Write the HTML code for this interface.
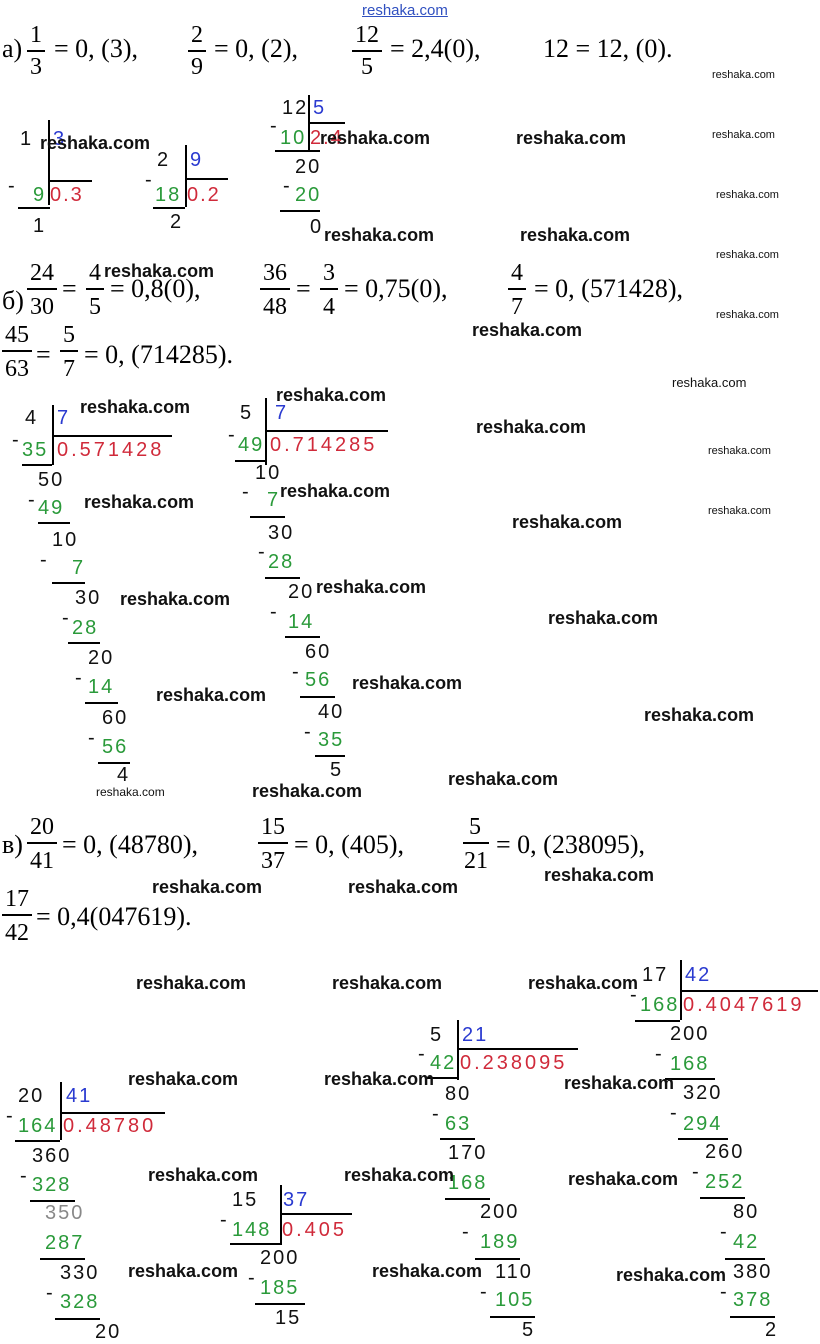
<!DOCTYPE html>
<html><head><meta charset="utf-8"><style>
body{margin:0;width:820px;height:1342px;background:#fff;position:relative;overflow:hidden}
.m{position:absolute;font:26px "Liberation Serif",serif;line-height:30px;white-space:nowrap;color:#000}
.n{position:absolute;font:24px "Liberation Serif",serif;line-height:26px;text-align:center;color:#000}
.fb{position:absolute;height:1.5px;background:#000}
.w{position:absolute;font:bold 18px "Liberation Sans",sans-serif;line-height:20px;color:#111;white-space:nowrap}
.ws{position:absolute;font:11px "Liberation Sans",sans-serif;line-height:12px;color:#111}
.d{position:absolute;font:20px "Liberation Sans",sans-serif;line-height:24px;letter-spacing:2px;white-space:nowrap;color:#111}
.g{color:#2a9a3a}.r{color:#d02a3a}.b{color:#2a3ad0}
.v{position:absolute;width:1.5px;background:#000}
.h{position:absolute;height:1.5px;background:#000}
</style></head><body>
<div style="position:absolute;left:362px;top:2px;font:15px 'Liberation Sans',sans-serif;color:#3050c0;text-decoration:underline">reshaka.com</div>

<!-- а) -->
<div class="m" style="left:2px;top:34px">а)</div>
<div class="n" style="left:27px;top:22px;width:18px">1</div><div class="fb" style="left:27px;top:50px;width:18px"></div><div class="n" style="left:27px;top:54px;width:18px">3</div>
<div class="m" style="left:54px;top:34px">= 0, (3),</div>
<div class="n" style="left:188px;top:22px;width:18px">2</div><div class="fb" style="left:188px;top:50px;width:18px"></div><div class="n" style="left:188px;top:54px;width:18px">9</div>
<div class="m" style="left:214px;top:34px">= 0, (2),</div>
<div class="n" style="left:352px;top:22px;width:30px">12</div><div class="fb" style="left:352px;top:50px;width:30px"></div><div class="n" style="left:352px;top:54px;width:30px">5</div>
<div class="m" style="left:390px;top:34px">= 2,4(0),</div>
<div class="m" style="left:543px;top:34px">12 = 12, (0).</div>

<!-- б) -->
<div class="m" style="left:2px;top:286px">б)</div>
<div class="n" style="left:27px;top:260px;width:30px">24</div><div class="fb" style="left:27px;top:288px;width:30px"></div><div class="n" style="left:27px;top:294px;width:30px">30</div>
<div class="m" style="left:62px;top:274px">=</div>
<div class="n" style="left:86px;top:260px;width:18px">4</div><div class="fb" style="left:86px;top:288px;width:18px"></div><div class="n" style="left:86px;top:294px;width:18px">5</div>
<div class="m" style="left:110px;top:274px">= 0,8(0),</div>
<div class="n" style="left:260px;top:260px;width:30px">36</div><div class="fb" style="left:260px;top:288px;width:30px"></div><div class="n" style="left:260px;top:294px;width:30px">48</div>
<div class="m" style="left:296px;top:274px">=</div>
<div class="n" style="left:320px;top:260px;width:18px">3</div><div class="fb" style="left:320px;top:288px;width:18px"></div><div class="n" style="left:320px;top:294px;width:18px">4</div>
<div class="m" style="left:344px;top:274px">= 0,75(0),</div>
<div class="n" style="left:508px;top:260px;width:18px">4</div><div class="fb" style="left:508px;top:288px;width:18px"></div><div class="n" style="left:508px;top:294px;width:18px">7</div>
<div class="m" style="left:534px;top:274px">= 0, (571428),</div>
<div class="n" style="left:2px;top:322px;width:30px">45</div><div class="fb" style="left:2px;top:350px;width:30px"></div><div class="n" style="left:2px;top:356px;width:30px">63</div>
<div class="m" style="left:36px;top:340px">=</div>
<div class="n" style="left:60px;top:322px;width:18px">5</div><div class="fb" style="left:60px;top:350px;width:18px"></div><div class="n" style="left:60px;top:356px;width:18px">7</div>
<div class="m" style="left:84px;top:340px">= 0, (714285).</div>

<!-- в) -->
<div class="m" style="left:2px;top:830px">в)</div>
<div class="n" style="left:27px;top:814px;width:30px">20</div><div class="fb" style="left:27px;top:842px;width:30px"></div><div class="n" style="left:27px;top:848px;width:30px">41</div>
<div class="m" style="left:62px;top:830px">= 0, (48780),</div>
<div class="n" style="left:258px;top:814px;width:30px">15</div><div class="fb" style="left:258px;top:842px;width:30px"></div><div class="n" style="left:258px;top:848px;width:30px">37</div>
<div class="m" style="left:294px;top:830px">= 0, (405),</div>
<div class="n" style="left:463px;top:814px;width:24px">5</div><div class="fb" style="left:463px;top:842px;width:26px"></div><div class="n" style="left:463px;top:848px;width:26px">21</div>
<div class="m" style="left:496px;top:830px">= 0, (238095),</div>
<div class="n" style="left:2px;top:886px;width:30px">17</div><div class="fb" style="left:2px;top:914px;width:30px"></div><div class="n" style="left:2px;top:920px;width:30px">42</div>
<div class="m" style="left:36px;top:902px">= 0,4(047619).</div>

<!-- Div 1/3 -->
<div class="d" style="left:20px;top:127px">1</div><div class="d b" style="left:53px;top:127px">3</div>
<div class="v" style="left:48px;top:120px;height:85px"></div><div class="h" style="left:48px;top:180px;width:44px"></div>
<div class="d" style="left:8px;top:174px">-</div>
<div class="d g" style="left:33px;top:183px">9</div><div class="d r" style="left:50px;top:183px">0.3</div>
<div class="h" style="left:18px;top:207px;width:32px"></div><div class="d" style="left:33px;top:214px">1</div>
<!-- Div 2/9 -->
<div class="d" style="left:157px;top:148px">2</div><div class="d b" style="left:190px;top:148px">9</div>
<div class="v" style="left:185px;top:145px;height:62px"></div><div class="h" style="left:185px;top:178px;width:43px"></div>
<div class="d" style="left:145px;top:168px">-</div>
<div class="d g" style="left:155px;top:183px">18</div><div class="d r" style="left:187px;top:183px">0.2</div>
<div class="h" style="left:153px;top:207px;width:32px"></div><div class="d" style="left:170px;top:210px">2</div>
<!-- Div 12/5 -->
<div class="d" style="left:282px;top:96px">12</div><div class="d b" style="left:313px;top:96px">5</div>
<div class="v" style="left:308px;top:95px;height:55px"></div><div class="h" style="left:308px;top:122px;width:37px"></div>
<div class="d" style="left:270px;top:114px">-</div>
<div class="d g" style="left:280px;top:126px">10</div><div class="d r" style="left:310px;top:126px">2.4</div>
<div class="h" style="left:275px;top:150px;width:45px"></div>
<div class="d" style="left:295px;top:155px">20</div><div class="d" style="left:283px;top:174px">-</div>
<div class="d g" style="left:295px;top:183px">20</div>
<div class="h" style="left:280px;top:210px;width:40px"></div><div class="d" style="left:310px;top:215px">0</div>

<!-- Div 4/7 -->
<div class="d" style="left:25px;top:406px">4</div><div class="d b" style="left:57px;top:406px">7</div>
<div class="v" style="left:52px;top:405px;height:60px"></div><div class="h" style="left:52px;top:435px;width:120px"></div>
<div class="d g" style="left:22px;top:438px">35</div><div class="d r" style="left:57px;top:438px;letter-spacing:3px">0.571428</div>
<div class="d" style="left:12px;top:428px">-</div>
<div class="h" style="left:22px;top:464px;width:30px"></div>
<div class="d" style="left:38px;top:468px">50</div><div class="d" style="left:28px;top:488px">-</div><div class="d g" style="left:38px;top:496px">49</div>
<div class="h" style="left:38px;top:522px;width:32px"></div>
<div class="d" style="left:52px;top:528px">10</div><div class="d" style="left:40px;top:548px">-</div><div class="d g" style="left:72px;top:556px">7</div>
<div class="h" style="left:52px;top:582px;width:33px"></div>
<div class="d" style="left:75px;top:586px">30</div><div class="d" style="left:62px;top:606px">-</div><div class="d g" style="left:72px;top:616px">28</div>
<div class="h" style="left:68px;top:642px;width:32px"></div>
<div class="d" style="left:88px;top:646px">20</div><div class="d" style="left:75px;top:666px">-</div><div class="d g" style="left:88px;top:675px">14</div>
<div class="h" style="left:85px;top:702px;width:33px"></div>
<div class="d" style="left:102px;top:706px">60</div><div class="d" style="left:88px;top:726px">-</div><div class="d g" style="left:102px;top:735px">56</div>
<div class="h" style="left:98px;top:762px;width:32px"></div><div class="d" style="left:117px;top:763px">4</div>

<!-- Div 5/7 -->
<div class="d" style="left:240px;top:401px">5</div><div class="d b" style="left:275px;top:401px">7</div>
<div class="v" style="left:265px;top:398px;height:67px"></div><div class="h" style="left:265px;top:430px;width:123px"></div>
<div class="d g" style="left:238px;top:433px">49</div><div class="d r" style="left:270px;top:433px;letter-spacing:3px">0.714285</div>
<div class="d" style="left:228px;top:423px">-</div>
<div class="h" style="left:235px;top:460px;width:30px"></div>
<div class="d" style="left:255px;top:461px">10</div><div class="d" style="left:242px;top:480px">-</div><div class="d g" style="left:267px;top:488px">7</div>
<div class="h" style="left:250px;top:516px;width:35px"></div>
<div class="d" style="left:268px;top:521px">30</div><div class="d" style="left:258px;top:540px">-</div><div class="d g" style="left:268px;top:550px">28</div>
<div class="h" style="left:265px;top:577px;width:35px"></div>
<div class="d" style="left:288px;top:580px">20</div><div class="d" style="left:270px;top:600px">-</div><div class="d g" style="left:288px;top:610px">14</div>
<div class="h" style="left:285px;top:636px;width:35px"></div>
<div class="d" style="left:305px;top:640px">60</div><div class="d" style="left:292px;top:660px">-</div><div class="d g" style="left:305px;top:668px">56</div>
<div class="h" style="left:300px;top:696px;width:35px"></div>
<div class="d" style="left:318px;top:700px">40</div><div class="d" style="left:304px;top:720px">-</div><div class="d g" style="left:318px;top:728px">35</div>
<div class="h" style="left:315px;top:755px;width:30px"></div><div class="d" style="left:330px;top:758px">5</div>

<!-- Div 20/41 -->
<div class="d" style="left:18px;top:1084px">20</div><div class="d b" style="left:66px;top:1084px">41</div>
<div class="v" style="left:60px;top:1082px;height:58px"></div><div class="h" style="left:60px;top:1112px;width:105px"></div>
<div class="d" style="left:6px;top:1104px">-</div>
<div class="d g" style="left:18px;top:1114px">164</div><div class="d r" style="left:63px;top:1114px;letter-spacing:3px">0.48780</div>
<div class="h" style="left:15px;top:1140px;width:45px"></div>
<div class="d" style="left:32px;top:1144px">360</div><div class="d" style="left:20px;top:1164px">-</div><div class="d g" style="left:32px;top:1173px">328</div>
<div class="h" style="left:30px;top:1200px;width:45px"></div>
<div class="d" style="left:45px;top:1201px;color:#888">350</div><div class="d g" style="left:45px;top:1231px">287</div>
<div class="h" style="left:40px;top:1258px;width:45px"></div>
<div class="d" style="left:60px;top:1261px">330</div><div class="d" style="left:46px;top:1281px">-</div><div class="d g" style="left:60px;top:1290px">328</div>
<div class="h" style="left:55px;top:1318px;width:45px"></div><div class="d" style="left:95px;top:1320px">20</div>

<!-- Div 15/37 -->
<div class="d" style="left:232px;top:1188px">15</div><div class="d b" style="left:283px;top:1188px">37</div>
<div class="v" style="left:280px;top:1185px;height:60px"></div><div class="h" style="left:280px;top:1213px;width:72px"></div>
<div class="d" style="left:220px;top:1208px">-</div>
<div class="d g" style="left:232px;top:1218px">148</div><div class="d r" style="left:282px;top:1218px;letter-spacing:3px">0.405</div>
<div class="h" style="left:230px;top:1243px;width:50px"></div>
<div class="d" style="left:260px;top:1246px">200</div><div class="d" style="left:248px;top:1266px">-</div><div class="d g" style="left:260px;top:1276px">185</div>
<div class="h" style="left:255px;top:1303px;width:50px"></div><div class="d" style="left:275px;top:1306px">15</div>

<!-- Div 5/21 -->
<div class="d" style="left:430px;top:1023px">5</div><div class="d b" style="left:462px;top:1023px">21</div>
<div class="v" style="left:457px;top:1020px;height:60px"></div><div class="h" style="left:457px;top:1048px;width:121px"></div>
<div class="d" style="left:418px;top:1042px">-</div>
<div class="d g" style="left:430px;top:1051px">42</div><div class="d r" style="left:460px;top:1051px;letter-spacing:3px">0.238095</div>
<div class="h" style="left:425px;top:1077px;width:32px"></div>
<div class="d" style="left:445px;top:1082px">80</div><div class="d" style="left:432px;top:1102px">-</div><div class="d g" style="left:445px;top:1112px">63</div>
<div class="h" style="left:440px;top:1138px;width:35px"></div>
<div class="d" style="left:448px;top:1141px">170</div><div class="d g" style="left:448px;top:1171px">168</div>
<div class="h" style="left:445px;top:1198px;width:45px"></div>
<div class="d" style="left:480px;top:1200px">200</div><div class="d" style="left:462px;top:1220px">-</div><div class="d g" style="left:480px;top:1230px">189</div>
<div class="h" style="left:475px;top:1258px;width:45px"></div>
<div class="d" style="left:495px;top:1260px">110</div><div class="d" style="left:480px;top:1280px">-</div><div class="d g" style="left:495px;top:1288px">105</div>
<div class="h" style="left:490px;top:1316px;width:45px"></div><div class="d" style="left:522px;top:1318px">5</div>

<!-- Div 17/42 -->
<div class="d" style="left:642px;top:963px">17</div><div class="d b" style="left:685px;top:963px">42</div>
<div class="v" style="left:680px;top:960px;height:60px"></div><div class="h" style="left:680px;top:990px;width:138px"></div>
<div class="d" style="left:630px;top:983px">-</div>
<div class="d g" style="left:640px;top:993px">168</div><div class="d r" style="left:683px;top:993px;letter-spacing:3px">0.4047619</div>
<div class="h" style="left:635px;top:1020px;width:45px"></div>
<div class="d" style="left:670px;top:1022px">200</div><div class="d" style="left:655px;top:1042px">-</div><div class="d g" style="left:670px;top:1052px">168</div>
<div class="h" style="left:665px;top:1078px;width:50px"></div>
<div class="d" style="left:683px;top:1081px">320</div><div class="d" style="left:670px;top:1101px">-</div><div class="d g" style="left:683px;top:1112px">294</div>
<div class="h" style="left:678px;top:1138px;width:50px"></div>
<div class="d" style="left:705px;top:1140px">260</div><div class="d" style="left:692px;top:1160px">-</div><div class="d g" style="left:705px;top:1170px">252</div>
<div class="h" style="left:700px;top:1197px;width:45px"></div>
<div class="d" style="left:733px;top:1200px">80</div><div class="d" style="left:720px;top:1220px">-</div><div class="d g" style="left:733px;top:1230px">42</div>
<div class="h" style="left:725px;top:1258px;width:40px"></div>
<div class="d" style="left:733px;top:1260px">380</div><div class="d" style="left:720px;top:1280px">-</div><div class="d g" style="left:733px;top:1288px">378</div>
<div class="h" style="left:730px;top:1316px;width:45px"></div><div class="d" style="left:765px;top:1318px">2</div>

<!-- watermarks -->
<div class="w" style="left:40px;top:133px">reshaka.com</div>
<div class="w" style="left:320px;top:128px">reshaka.com</div>
<div class="w" style="left:516px;top:128px">reshaka.com</div>
<div class="w" style="left:324px;top:225px">reshaka.com</div>
<div class="w" style="left:520px;top:225px">reshaka.com</div>
<div class="w" style="left:104px;top:261px">reshaka.com</div>
<div class="w" style="left:472px;top:320px">reshaka.com</div>
<div class="w" style="left:276px;top:385px">reshaka.com</div>
<div class="w" style="left:80px;top:397px">reshaka.com</div>
<div class="w" style="left:476px;top:417px">reshaka.com</div>
<div class="w" style="left:84px;top:492px">reshaka.com</div>
<div class="w" style="left:280px;top:481px">reshaka.com</div>
<div class="w" style="left:512px;top:512px">reshaka.com</div>
<div class="w" style="left:120px;top:589px">reshaka.com</div>
<div class="w" style="left:316px;top:577px">reshaka.com</div>
<div class="w" style="left:548px;top:608px">reshaka.com</div>
<div class="w" style="left:156px;top:685px">reshaka.com</div>
<div class="w" style="left:352px;top:673px">reshaka.com</div>
<div class="w" style="left:644px;top:705px">reshaka.com</div>
<div class="w" style="left:252px;top:781px">reshaka.com</div>
<div class="w" style="left:448px;top:769px">reshaka.com</div>
<div class="w" style="left:152px;top:877px">reshaka.com</div>
<div class="w" style="left:348px;top:877px">reshaka.com</div>
<div class="w" style="left:544px;top:865px">reshaka.com</div>
<div class="w" style="left:136px;top:973px">reshaka.com</div>
<div class="w" style="left:332px;top:973px">reshaka.com</div>
<div class="w" style="left:528px;top:973px">reshaka.com</div>
<div class="w" style="left:128px;top:1069px">reshaka.com</div>
<div class="w" style="left:324px;top:1069px">reshaka.com</div>
<div class="w" style="left:564px;top:1073px">reshaka.com</div>
<div class="w" style="left:148px;top:1165px">reshaka.com</div>
<div class="w" style="left:344px;top:1165px">reshaka.com</div>
<div class="w" style="left:568px;top:1169px">reshaka.com</div>
<div class="w" style="left:128px;top:1261px">reshaka.com</div>
<div class="w" style="left:372px;top:1261px">reshaka.com</div>
<div class="w" style="left:616px;top:1265px">reshaka.com</div>
<div class="ws" style="left:712px;top:69px">reshaka.com</div>
<div class="ws" style="left:712px;top:129px">reshaka.com</div>
<div class="ws" style="left:716px;top:189px">reshaka.com</div>
<div class="ws" style="left:716px;top:249px">reshaka.com</div>
<div class="ws" style="left:716px;top:309px">reshaka.com</div>
<div class="ws" style="left:672px;top:377px;font-size:13px">reshaka.com</div>
<div class="ws" style="left:708px;top:445px">reshaka.com</div>
<div class="ws" style="left:708px;top:505px">reshaka.com</div>
<div class="ws" style="left:96px;top:786px;font-size:12px">reshaka.com</div>
</body></html>
